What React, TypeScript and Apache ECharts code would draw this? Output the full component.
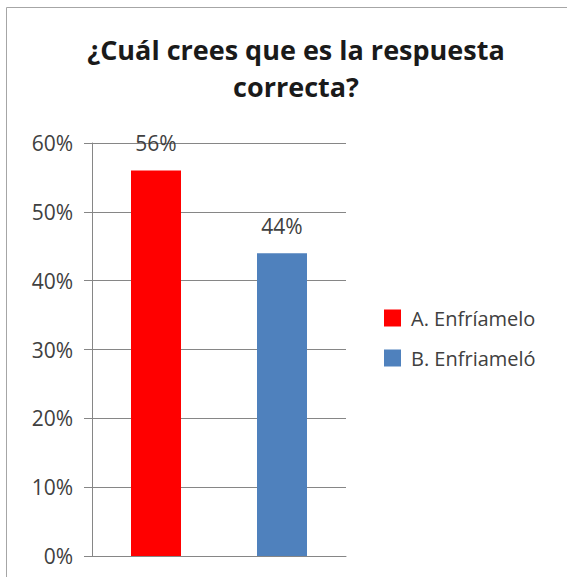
import React, { useEffect, useRef } from "react";
import * as echarts from "echarts";

const seriesNames = ["A. Enfríamelo", "B. Enfriameló"];
const seriesValues = [56, 44];
const seriesColors = ["#ff0000", "#4f81bd"];
const categories = [""];
const titleText = "¿Cuál crees que es la respuesta\ncorrecta?";

const FONT = "'Open Sans', sans-serif";

export default function App() {
  const ref = useRef<HTMLDivElement>(null);
  useEffect(() => {
    if (!ref.current) return;
    const chart = echarts.init(ref.current, null, { renderer: "svg" });
    chart.setOption({
      animation: false,
      backgroundColor: "#ffffff",
      textStyle: { fontFamily: FONT },
      title: {
        text: titleText,
        left: 296,
        top: 31,
        padding: 0,
        textAlign: "center",
        textStyle: { fontFamily: FONT, fontWeight: "bold", fontSize: 27, lineHeight: 37, color: "#1a1a1a" },
      },
      graphic: [
        {
          type: "rect",
          shape: { x: 6.5, y: 7.5, width: 620, height: 620 },
          style: { fill: "none", stroke: "#a6a6a6", lineWidth: 1 },
          silent: true,
        },
      ],
      legend: {
        orient: "vertical",
        left: 384,
        top: 308,
        padding: 0,
        itemWidth: 17,
        itemHeight: 17,
        itemGap: 20,
        icon: "rect",
        textStyle: { fontFamily: FONT, fontSize: 20, color: "#404040", padding: [0, 0, 0, 5] },
        data: seriesNames,
      },
      grid: { left: 92, right: 221, top: 143, bottom: 21, containLabel: false },
      xAxis: {
        type: "category",
        data: categories,
        axisLine: { show: true, lineStyle: { color: "#868686" } },
        axisTick: { show: false },
        axisLabel: { show: false },
      },
      yAxis: {
        type: "value",
        min: 0,
        max: 60,
        interval: 10,
        axisLine: { show: true, lineStyle: { color: "#868686" } },
        axisTick: { show: true, length: 8, lineStyle: { color: "#868686" } },
        axisLabel: { formatter: "{value}%", fontFamily: FONT, fontSize: 21, color: "#404040", margin: 19 },
        splitLine: { show: true, lineStyle: { color: "#868686" } },
      },
      series: seriesNames.map((name, i) => ({
        name,
        type: "bar",
        barWidth: 50,
        barGap: "152%",
        data: [seriesValues[i]],
        itemStyle: { color: seriesColors[i] },
        label: {
          show: true,
          position: "top",
          distance: 17,
          formatter: "{c}%",
          fontFamily: FONT,
          fontSize: 21,
          color: "#404040",
        },
      })),
    });
    return () => chart.dispose();
  }, []);
  return (
    <div
      ref={ref}
      style={{ position: "absolute", left: 0, top: 0, width: 567, height: 577 }}
    />
  );
}
